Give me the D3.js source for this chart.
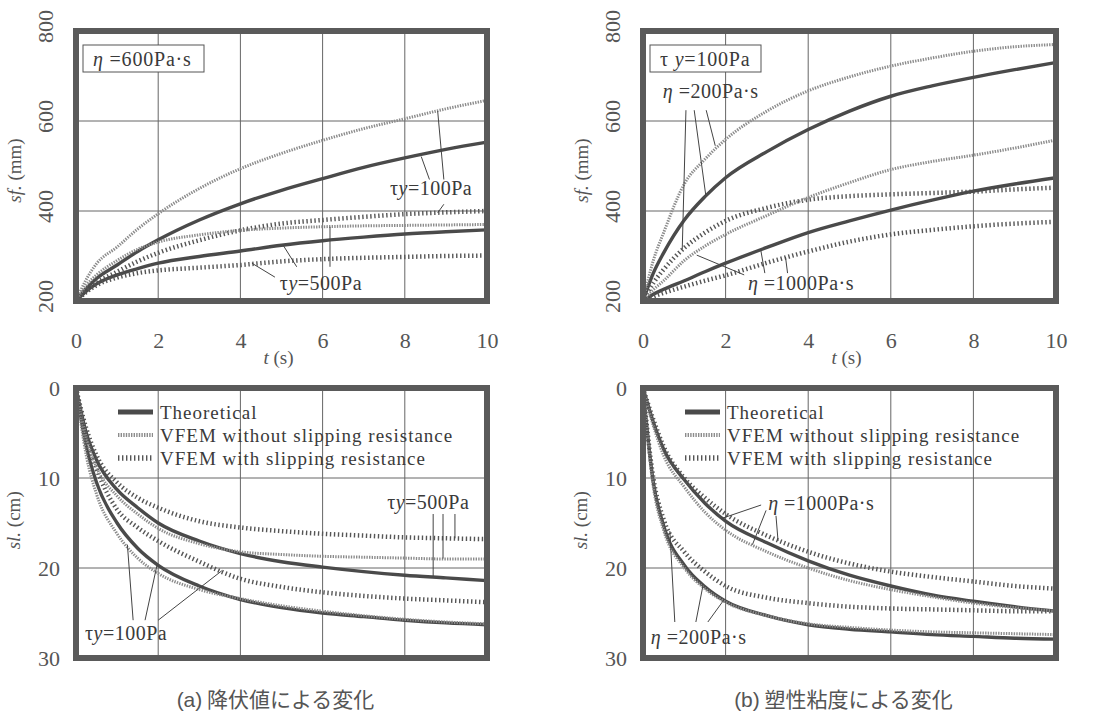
<!DOCTYPE html>
<html>
<head>
<meta charset="utf-8">
<script src="https://cdn.jsdelivr.net/npm/d3@7"></script>
<style>
  body { margin: 0; background: #fff; }
  svg { display: block; }
</style>
</head>
<body>
<svg id="fig" width="1095" height="713"></svg>
<script>
// time samples shared by every curve (s)
const tPts = [0, 0.25, 0.5, 1, 1.5, 2, 3, 4, 5, 6, 7, 8, 9, 10];

// (a) flow front sf (mm), eta = 600 Pa.s
const sfTheoTy100 = [200, 228, 250, 280, 310, 336, 380, 416, 446, 472, 497, 518, 537, 553];
const sfFreeTy100 = [200, 248, 283, 320, 360, 394, 450, 494, 528, 557, 583, 605, 627, 646];
const sfSlipTy100 = [200, 222, 240, 265, 288, 307, 335, 357, 372, 380, 387, 393, 397, 400];
const sfTheoTy500 = [200, 222, 238, 258, 272, 284, 299, 311, 324, 334, 342, 349, 354, 358];
const sfFreeTy500 = [200, 235, 258, 290, 315, 331, 347, 357, 362, 365, 367, 368, 369, 370];
const sfSlipTy500 = [200, 220, 235, 252, 262, 268, 274, 280, 288, 293, 296, 298, 300, 301];

// (b) flow front sf (mm), tau_y = 100 Pa
const sfTheoEta200 = [200, 262, 307, 380, 432, 474, 532, 581, 622, 655, 678, 697, 714, 730];
const sfFreeEta200 = [200, 290, 352, 460, 515, 559, 622, 667, 698, 722, 740, 755, 765, 770];
const sfSlipEta200 = [200, 240, 270, 318, 352, 378, 407, 425, 433, 437, 440, 443, 448, 452];
const sfTheoEta1000 = [200, 215, 226, 245, 265, 284, 319, 352, 378, 402, 424, 444, 460, 474];
const sfFreeEta1000 = [200, 225, 245, 290, 322, 348, 390, 430, 463, 492, 510, 524, 540, 558];
const sfSlipEta1000 = [200, 210, 218, 232, 245, 257, 285, 310, 332, 348, 358, 366, 372, 376];

// (a) slump sl (cm)
const slTheoTy100 = [0, 6.5, 10.5, 15, 17.8, 19.7, 22, 23.5, 24.4, 25, 25.4, 25.8, 26.1, 26.3];
const slFreeTy100 = [0, 7.5, 11.8, 16.2, 18.9, 20.6, 22.4, 23.4, 24.2, 24.8, 25.3, 25.7, 26, 26.2];
const slSlipTy100 = [0, 5.5, 9, 13.5, 15.5, 17, 19.3, 21.2, 22.1, 22.7, 23.1, 23.4, 23.6, 23.8];
const slTheoTy500 = [0, 5, 8, 11.3, 13.3, 15, 17, 18.4, 19.3, 19.9, 20.4, 20.8, 21.1, 21.4];
const slFreeTy500 = [0, 5.5, 8.8, 12, 14, 15.6, 17.3, 18.2, 18.5, 18.7, 18.8, 18.9, 19, 19];
const slSlipTy500 = [0, 4.5, 7.5, 10.5, 12.2, 13.3, 14.8, 15.5, 15.9, 16.2, 16.4, 16.6, 16.7, 16.8];

// (b) slump sl (cm)
const slTheoEta200 = [0, 10.5, 15.3, 19.7, 22.1, 23.7, 25.3, 26.3, 26.8, 27.1, 27.4, 27.6, 27.8, 27.9];
const slFreeEta200 = [0, 11, 15.8, 20, 22.3, 23.8, 25.3, 26.2, 26.6, 26.9, 27.1, 27.2, 27.3, 27.4];
const slSlipEta200 = [0, 10, 14.6, 18.2, 20.4, 22, 23.3, 23.9, 24.3, 24.5, 24.6, 24.7, 24.8, 24.8];
const slTheoEta1000 = [0, 3.8, 6.8, 10.2, 12.8, 14.8, 17.2, 19.2, 20.8, 22, 23, 23.7, 24.3, 24.8];
const slFreeEta1000 = [0, 4.2, 7.5, 11, 13.8, 15.8, 18.2, 20, 21.4, 22.4, 23.2, 23.9, 24.4, 24.8];
const slSlipEta1000 = [0, 3.5, 6.5, 10, 12.2, 14, 16.4, 18.2, 19.5, 20.4, 21, 21.5, 22, 22.3];

// axis ticks
const tTicks = [0, 2, 4, 6, 8, 10];
const sfTicks = [200, 400, 600, 800];
const slTicks = [0, 10, 20, 30];

const legendNames = ["Theoretical", "VFEM without slipping resistance", "VFEM with slipping resistance"];

// curve labels: text parts [string, italic], anchor [t, value], leader lines [t1, v1, t2, v2]
const lblTy100 = [["τ", false], ["y", true], ["=100Pa", false]];
const lblTy500 = [["τ", false], ["y", true], ["=500Pa", false]];
const lblEta200 = [["η", true], [" =200Pa·s", false]];
const lblEta1000 = [["η", true], [" =1000Pa·s", false]];

const notesSfA = [
  { parts: lblTy100, at: [7.64, 436], leaders: [[8.6, 470, 8.4, 521], [8.95, 470, 8.8, 622], [8.95, 415, 8.8, 396]] },
  { parts: lblTy500, at: [4.96, 224], leaders: [[4.84, 253, 4.28, 284], [5.37, 276, 5.04, 324], [6.18, 276, 6.18, 365]] }
];
const notesSfB = [
  { parts: lblEta200, at: [0.48, 651], leaders: [[1.04, 624, 0.95, 315], [1.24, 624, 1.52, 435], [1.53, 624, 1.75, 545]] },
  { parts: lblEta1000, at: [2.54, 224], leaders: [[2.45, 258, 1.3, 302], [2.95, 262, 2.85, 314], [3.5, 262, 3.45, 298]] }
];
const notesSlA = [
  { parts: lblTy500, at: [7.57, 13.4], leaders: [[8.69, 14.0, 8.69, 20.9], [8.93, 14.0, 8.93, 18.95], [9.22, 14.0, 9.22, 16.7]] },
  { parts: lblTy100, at: [0.22, 28.0], leaders: [[1.39, 25.8, 1.25, 17.4], [1.68, 25.8, 1.97, 19.7], [2.0, 25.8, 3.55, 20.3]] }
];
const notesSlB = [
  { parts: lblEta1000, at: [3.03, 13.56], leaders: [[2.86, 13.0, 1.9, 14.5], [2.98, 13.6, 2.65, 17.4], [3.22, 14.2, 3.27, 17.0]] },
  { parts: lblEta200, at: [0.19, 28.4], leaders: [[0.77, 26.0, 0.65, 15.9], [1.28, 26.0, 1.45, 22.0], [1.57, 26.0, 1.95, 23.6]] }
];

const SERIF = '"Liberation Serif", "Times New Roman", Tinos, "Nimbus Roman", "Noto Serif", serif';

// line styles for the three kinds of curve
const styles = {
  theo: { stroke: "#4a4a4a", width: 3.4, dash: null },
  free: { stroke: "#8c8c8c", width: 3, dash: "1.4,1.2" },
  slip: { stroke: "#555", width: 4.5, dash: "1.4,2.6" }
};
const kinds = ["theo", "free", "slip"];

const svg = d3.select("#fig");

const panels = [
  { left: 76, right: 487, top: 31, bottom: 301, domain: [200, 800], ticks: sfTicks, kind: "sf",
    series: [[sfTheoTy100, "theo"], [sfFreeTy100, "free"], [sfSlipTy100, "slip"],
             [sfTheoTy500, "theo"], [sfFreeTy500, "free"], [sfSlipTy500, "slip"]],
    notes: notesSfA, box: [["η", true], [" =600Pa·s", false]], boxW: 121 },
  { left: 643, right: 1056, top: 31, bottom: 301, domain: [200, 800], ticks: sfTicks, kind: "sf",
    series: [[sfTheoEta200, "theo"], [sfFreeEta200, "free"], [sfSlipEta200, "slip"],
             [sfTheoEta1000, "theo"], [sfFreeEta1000, "free"], [sfSlipEta1000, "slip"]],
    notes: notesSfB, box: [["τ", false], [" ", false], ["y", true], ["=100Pa", false]], boxW: 111 },
  { left: 76, right: 487, top: 388, bottom: 658, domain: [30, 0], ticks: slTicks, kind: "sl",
    series: [[slTheoTy100, "theo"], [slFreeTy100, "free"], [slSlipTy100, "slip"],
             [slTheoTy500, "theo"], [slFreeTy500, "free"], [slSlipTy500, "slip"]],
    notes: notesSlA, caption: ["(a)", " 降伏値による変化"] },
  { left: 643, right: 1056, top: 388, bottom: 658, domain: [30, 0], ticks: slTicks, kind: "sl",
    series: [[slTheoEta200, "theo"], [slFreeEta200, "free"], [slSlipEta200, "slip"],
             [slTheoEta1000, "theo"], [slFreeEta1000, "free"], [slSlipEta1000, "slip"]],
    notes: notesSlB, caption: ["(b)", " 塑性粘度による変化"] }
];

function addParts(sel, parts) {
  parts.forEach(([s, it]) => {
    sel.append("tspan").attr("font-style", it ? "italic" : "normal").text(s);
  });
}

function applyStyle(sel, k) {
  const st = styles[k];
  sel.attr("fill", "none").attr("stroke", st.stroke).attr("stroke-width", st.width)
    .attr("stroke-dasharray", st.dash);
}

panels.forEach((p) => {
  const g = svg.append("g").attr("font-family", SERIF);
  const x = d3.scaleLinear().domain([0, 10]).range([p.left, p.right]);
  const y = d3.scaleLinear().domain(p.domain).range([p.bottom, p.top]);

  // grid
  g.selectAll("line.gx").data([2, 4, 6, 8]).join("line")
    .attr("x1", (d) => x(d)).attr("x2", (d) => x(d))
    .attr("y1", p.top).attr("y2", p.bottom)
    .attr("stroke", "#666").attr("stroke-width", 1);
  const inner = p.ticks.slice(1, -1);
  g.selectAll("line.gy").data(inner).join("line")
    .attr("x1", p.left).attr("x2", p.right)
    .attr("y1", (d) => y(d)).attr("y2", (d) => y(d))
    .attr("stroke", "#666").attr("stroke-width", 1);

  // curves
  const line = d3.line()
    .x((d, i) => x(tPts[i]))
    .y((d) => y(d))
    .curve(d3.curveMonotoneX);
  p.series.forEach(([vals, k]) => {
    g.append("path").datum(vals).attr("d", line).call(applyStyle, k);
  });

  // frame
  g.append("rect")
    .attr("x", p.left).attr("y", p.top)
    .attr("width", p.right - p.left).attr("height", p.bottom - p.top)
    .attr("fill", "none").attr("stroke", "#5a5a5a").attr("stroke-width", 6);

  // annotations
  p.notes.forEach((n) => {
    n.leaders.forEach(([t1, v1, t2, v2]) => {
      g.append("line")
        .attr("x1", x(t1)).attr("y1", y(v1)).attr("x2", x(t2)).attr("y2", y(v2))
        .attr("stroke", "#444").attr("stroke-width", 1);
    });
    const tx = g.append("text")
      .attr("x", x(n.at[0])).attr("y", y(n.at[1]))
      .attr("font-size", 20).attr("letter-spacing", 0.5).attr("fill", "#3a3a3a");
    addParts(tx, n.parts);
  });

  if (p.kind === "sf") {
    // parameter box
    g.append("rect")
      .attr("x", p.left + 7).attr("y", 45).attr("width", p.boxW).attr("height", 27)
      .attr("fill", "#fff").attr("stroke", "#555").attr("stroke-width", 1);
    const bt = g.append("text").attr("x", p.left + 17).attr("y", 66)
      .attr("font-size", 20).attr("letter-spacing", 0.8).attr("fill", "#3a3a3a");
    addParts(bt, p.box);

    // x axis numbers
    const ax = g.append("g").attr("transform", `translate(0,${p.bottom})`)
      .call(d3.axisBottom(x).tickValues(tTicks).tickSize(0).tickPadding(31).tickFormat(d3.format("d")));
    ax.attr("font-family", SERIF);
    ax.select(".domain").remove();
    ax.selectAll("text").attr("font-size", 22).attr("fill", "#555");

    // rotated y numbers
    const ay = g.append("g").attr("transform", `translate(${p.left},0)`)
      .call(d3.axisLeft(y).tickValues(p.ticks).tickSize(0).tickFormat(d3.format("d")));
    ay.attr("font-family", SERIF);
    ay.select(".domain").remove();
    ay.selectAll("text")
      .attr("x", null).attr("dy", "0.35em").attr("text-anchor", "middle")
      .attr("transform", "translate(-31,-5) rotate(-90)")
      .attr("font-size", 22).attr("fill", "#555");

    // axis titles
    const tt = g.append("text").attr("x", x(5) - 3).attr("y", 364).attr("text-anchor", "middle")
      .attr("font-size", 19).attr("fill", "#555");
    addParts(tt, [["t", true], ["  (s)", false]]);
    const yt = g.append("text")
      .attr("transform", `translate(${p.left - 55},${y(490)}) rotate(-90)`)
      .attr("text-anchor", "middle").attr("font-size", 19).attr("fill", "#555");
    addParts(yt, [["sf.", true], ["  (mm)", false]]);
  } else {
    // horizontal y numbers
    const ay = g.append("g").attr("transform", `translate(${p.left},0)`)
      .call(d3.axisLeft(y).tickValues(p.ticks).tickSize(0).tickPadding(16).tickFormat(d3.format("d")));
    ay.attr("font-family", SERIF);
    ay.select(".domain").remove();
    ay.selectAll("text").attr("font-size", 22).attr("fill", "#555");

    const yt = g.append("text")
      .attr("transform", `translate(${p.left - 56},${y(14.7)}) rotate(-90)`)
      .attr("text-anchor", "middle").attr("font-size", 19).attr("fill", "#555");
    addParts(yt, [["sl.", true], ["  (cm)", false]]);

    // legend
    const lg = g.append("g");
    kinds.forEach((k, i) => {
      const ly = p.top + 24 + i * 23;
      lg.append("line")
        .attr("x1", p.left + 42).attr("x2", p.left + 77).attr("y1", ly).attr("y2", ly)
        .call(applyStyle, k)
        .attr("stroke-width", k === "theo" ? 5 : k === "free" ? 4 : 5.5);
      lg.append("text").attr("x", p.left + 84).attr("y", ly).attr("dy", "0.35em")
        .attr("font-size", 19).attr("letter-spacing", 1).attr("fill", "#3a3a3a")
        .text(legendNames[i]);
    });

    // caption
    const cp = svg.append("text").attr("x", (p.left + p.right) / 2 - 6).attr("y", 707)
      .attr("text-anchor", "middle").attr("font-size", 21).attr("fill", "#555");
    cp.append("tspan").attr("font-family", '"Liberation Sans", Arial, sans-serif').text(p.caption[0]);
    cp.append("tspan").attr("font-family", '"Noto Sans CJK JP", sans-serif').text(p.caption[1]);
  }
});
</script>
</body>
</html>
